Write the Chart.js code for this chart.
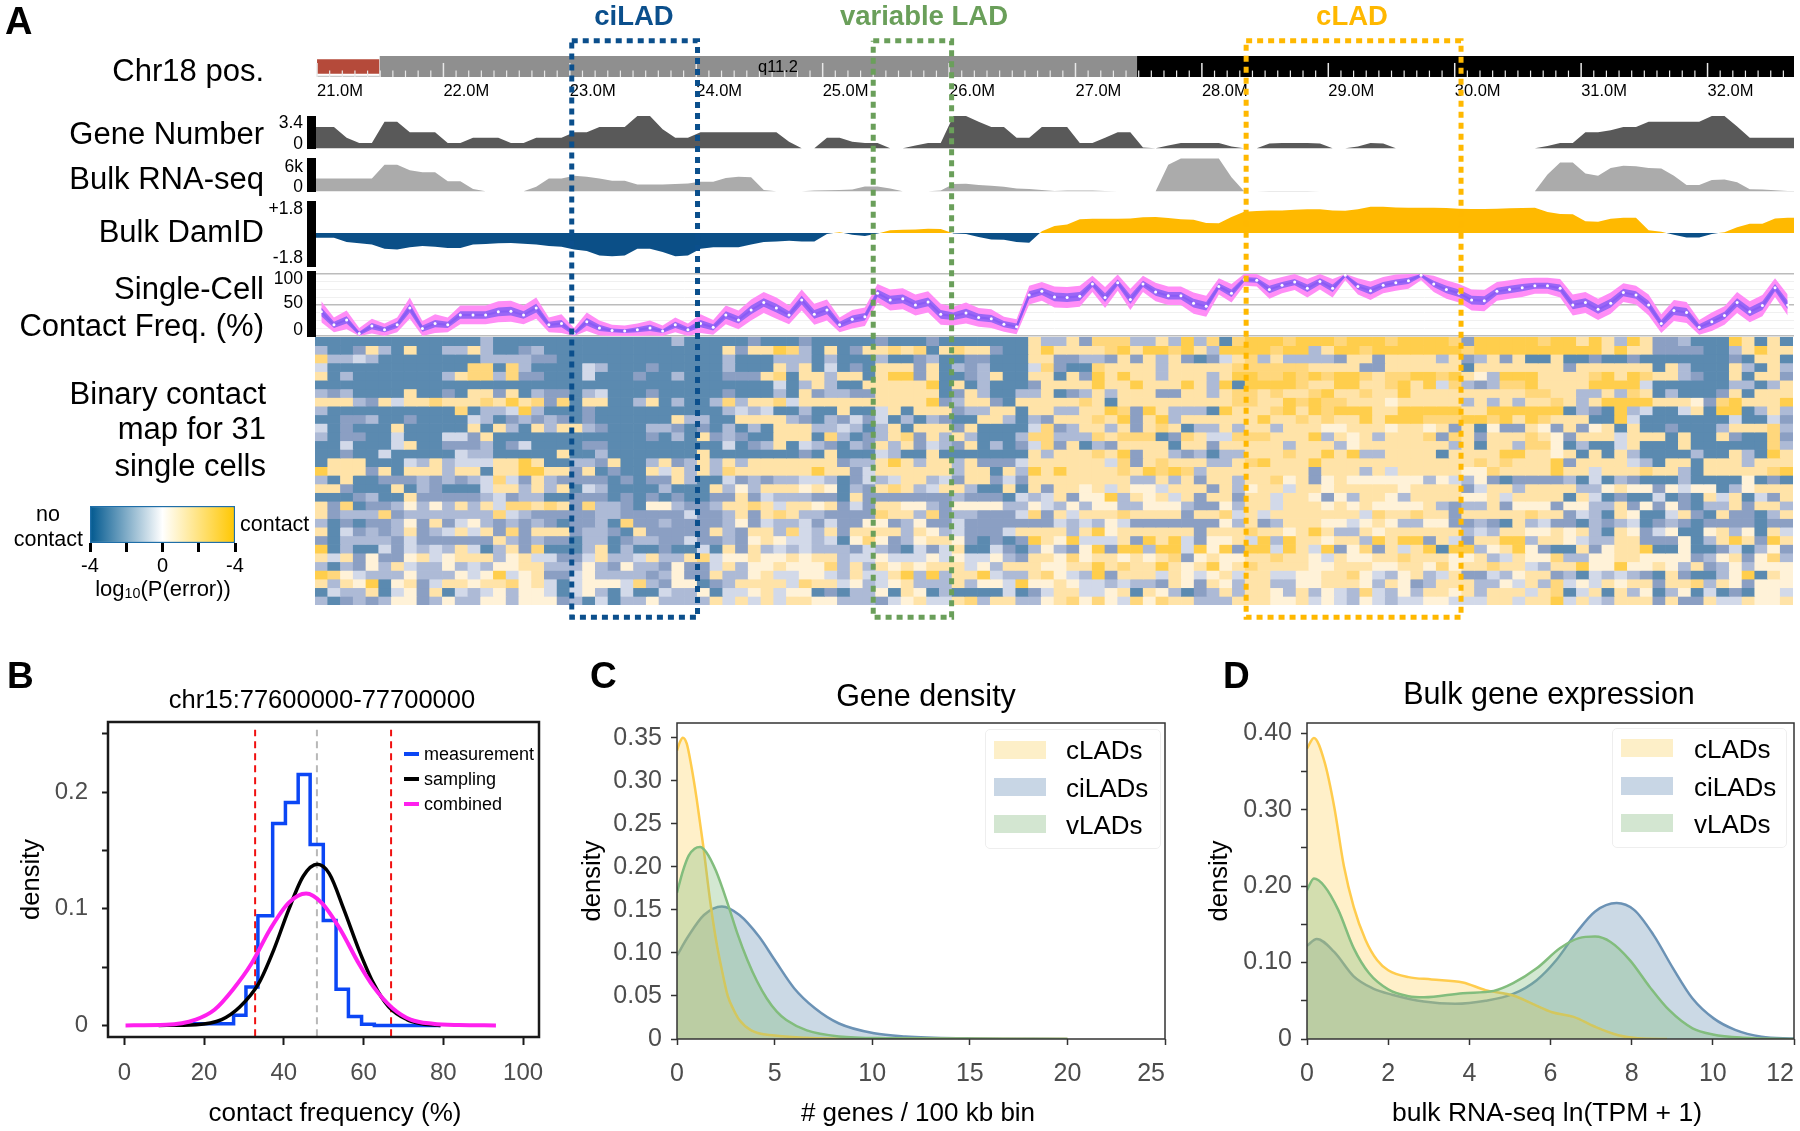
<!DOCTYPE html>
<html>
<head>
<meta charset="utf-8">
<title>LAD single-cell contact figure</title>
<script src="https://cdn.jsdelivr.net/npm/chart.js@4"></script>
<style>
    html, body { margin: 0; padding: 0; background: #fff; }
    #page { position: relative; width: 1800px; height: 1131px; overflow: hidden; font-family: "Liberation Sans", Arial, sans-serif; color: #000; filter: blur(0.4px); }
    #page canvas { position: absolute; }
    .txt { position: absolute; white-space: nowrap; line-height: 1; }
    .box { position: absolute; }
    sub { font-size: 0.65em; vertical-align: -0.15em; line-height: 0; }
</style>
</head>
<body>
<div id="page"></div>
<script>
// ---------- Panel A data: one value per 100 kb bin ----------
const chrTickLabels = ["21.0M", "22.0M", "23.0M", "24.0M", "25.0M", "26.0M", "27.0M", "28.0M", "29.0M", "30.0M", "31.0M", "32.0M"];
const chrTickValues = [21, 22, 23, 24, 25, 26, 27, 28, 29, 30, 31, 32];

const geneNumber = [2.25, 2.25, 1.1, .55, .55, 2.8, 2.8, 1.7, 1.7, 1.7, .55, .55, 1.1, 1.1, 1.1, .55, .55, 1.1, 1.1, 1.1,
    1.7, 1.7, 2.25, 2.25, 2.25, 3.4, 3.4, 2, 1.1, 1.1, 1.7, 1.7, 1.7, 1.7, 1.7, 1.7, 1.7, .7, 0, 0,
    1.1, 1.1, .7, .55, .55, 0, 0, .3, .55, .55, 3.4, 3.4, 2.8, 2.25, 2.25, 1.1, 1.1, 2.25, 2.25, 2.25,
    .55, .55, 1.1, 1.7, 1.7, .1, 0, .3, .55, .55, .55, .55, .2, 0, 0, .5, .55, .55, .55, .5,
    0, 0, .2, .55, .5, 0, 0, 0, 0, 0, 0, 0, 0, 0, 0, 0, 0, .25, .55, .55,
    1.7, 1.7, 1.9, 2.25, 2.25, 2.8, 2.8, 2.8, 2.8, 2.8, 3.4, 3.4, 2.3, 1.1, 1.1, 1.1, 1.1];

const bulkRna = [2.3, 2.3, 2.3, 2.3, 2.3, 4.8, 4.8, 3.8, 3.4, 3.4, 1.8, 1.8, .4, 0, 0, 0, 0, .8, 2.3, 2.3,
    2.8, 2.6, 2.3, 1.9, 1.9, 1.2, 1.2, 1.2, 1.3, 1.4, 1.7, 1.7, 2.4, 2.6, 2.5, .2, 0, 0, 0, .1,
    .15, .2, .3, .85, .85, .5, 0, 0, 0, .1, 1.3, 1.35, 1.1, 1, .8, .5, .4, .2, .05, .1,
    .1, .1, .05, 0, 0, 0, 0, 4.8, 5.9, 5.9, 5.9, 5.9, 2.5, 0, 0, .05, .05, .05, .05, 0,
    0, 0, 0, 0, 0, 0, 0, 0, 0, 0, 0, 0, 0, 0, 0, 0, 0, 3, 5.2, 5.2,
    3.2, 2.8, 4.2, 4.6, 4.5, 4.2, 4.1, 2.8, 1.1, 1.1, 2, 2.1, 1.6, .35, .3, .15, .05];

const bulkDamId = [-.26, -.26, -.5, -.58, -.65, -.88, -.92, -.8, -.73, -.77, -.84, -.84, -.65, -.62, -.58, -.56, -.6, -.65, -.73, -.77,
    -.92, -1.01, -1.26, -1.3, -1.26, -.88, -.88, -1.07, -1.3, -1.26, -.88, -.8, -.8, -.8, -.65, -.5, -.47, -.43, -.47, -.47,
    -.05, .05, -.1, -.17, -.03, .15, .18, .2, .24, .22, -.02, -.05, -.22, -.36, -.38, -.5, -.54, .1, .4, .48,
    .78, .8, .8, .8, .82, .88, .9, .85, .77, .75, .56, .55, .9, 1.2, 1.24, 1.27, 1.27, 1.31, 1.33, 1.33,
    1.27, 1.25, 1.33, 1.48, 1.48, 1.44, 1.42, 1.42, 1.42, 1.4, 1.37, 1.35, 1.35, 1.37, 1.39, 1.4, 1.42, 1.18, 1.07, 1.05,
    .66, .64, .8, .86, .86, .15, .07, -.1, -.25, -.25, -.05, .05, .33, .52, .52, .82, .86];

const contactFreq = [39, 18, 26, 4, 16, 10, 18, 45, 12, 20, 18, 34, 34, 34, 39, 40, 34, 45, 18, 20,
    4, 23, 13, 9, 8, 10, 13, 8, 18, 10, 20, 14, 34, 26, 42, 54, 45, 34, 58, 35,
    42, 18, 27, 31, 69, 58, 60, 50, 55, 35, 32, 37, 30, 28, 19, 15, 66, 72, 63, 62,
    64, 84, 62, 86, 59, 84, 71, 65, 65, 53, 48, 80, 69, 91, 90, 75, 82, 87, 77, 88,
    77, 98, 80, 73, 82, 86, 89, 98, 84, 75, 69, 58, 57, 72, 75, 78, 81, 81, 77, 50,
    54, 43, 53, 70, 66, 50, 20, 41, 38, 14, 23, 33, 54, 39, 49, 78, 50];

// half widths of the pink and the purple band round contactFreq
const contactOuter = [17, 12, 15, 9, 12, 10, 12, 17, 12, 15, 12, 15, 15, 15, 17, 17, 15, 17, 12, 15,
    9, 15, 12, 9, 9, 10, 12, 9, 12, 10, 15, 12, 15, 15, 17, 17, 17, 15, 17, 17,
    17, 12, 15, 15, 15, 17, 17, 17, 17, 17, 15, 17, 15, 15, 12, 12, 15, 15, 17, 17,
    17, 13, 17, 13, 17, 13, 15, 15, 15, 17, 17, 13, 15, 10, 10, 15, 13, 13, 15, 13,
    15, 8, 13, 15, 13, 13, 13, 8, 13, 15, 15, 17, 17, 15, 15, 15, 13, 13, 15, 17,
    17, 17, 17, 15, 15, 17, 15, 17, 17, 12, 15, 15, 17, 17, 17, 15, 17];
const contactInner = [7, 5, 6, 3, 5, 4, 5, 7, 5, 6, 5, 6, 6, 6, 7, 7, 6, 7, 5, 6,
    3, 6, 5, 3, 3, 4, 5, 3, 5, 4, 6, 5, 6, 6, 7, 7, 7, 6, 7, 7,
    7, 5, 6, 6, 6, 7, 7, 7, 7, 7, 6, 7, 6, 6, 5, 5, 6, 6, 7, 7,
    7, 5, 7, 5, 7, 5, 6, 6, 6, 7, 7, 5, 6, 4, 4, 6, 5, 5, 6, 5,
    6, 3, 5, 6, 5, 5, 5, 3, 5, 6, 6, 7, 7, 6, 6, 6, 5, 5, 6, 7,
    7, 7, 7, 6, 6, 7, 6, 7, 7, 5, 6, 6, 7, 7, 7, 6, 7];

// 31 cells x 116 bins, 0 = surest no contact ... 7 = surest contact
const contactRows = [
    "00000000000002000000000000002000001000 1 00000 1 000 1 0000000 5225 1 666 22 5 2 7 2 6 0 6 777 67 776777 6 7777 61 77777 6 77 57527 5112 000 75050",
    "200152050022520012 00000000000000 515576 205015565605655100 5755556757767527777677 257767 777777 6 777777 7777 57 55 1111 00 25755",
    "62232 00000000 222211 0000000000000 2 000 22 202000200120011000 5511221515251013562522 2215515 555 25 12515 00500 1001 0000000 10550",
    "3 00000000000 66062 0000 32 000 1 00000 2 000 52 503010555150212000 3610065555255555666666 5555 11 555555 0 5555555 1 555555 0 52 000 52052",
    "502 0000000 25662611 000 3 000 1 00 2 000 111560 552550577150012500 5505175755255525776676 76776 56677 67542 77755 55675 76552 10050 551",
    "000000000000000000000000000000000000 30 252005555570502000 1555575575557527077776 55775 56757 36212 66755 55777 73000 00022 025",
    "212 0000 5 00 10 5515 0 211 0 23 000 1 00000 1 000 20 512211555550152002 2501252555115525665655 67556 55755 55555 55665 52252 65020 00150 555",
    "555215355655565 75616055 002502002 625563 555555555571255105 5555650555555555665576 76655 54555 55252 52556 52577 77555 41675 557",
    "2 0000000000 6022372 000 1 0000000000 232300 200500350555122550 5522557617522207555675 76777 55777 77557 77777 02107 23003 50770 252",
    "00112 00 1 0000 32 0 12121 0 1 000000 522 00 55552 102131302021005520 2155565715725555557556 56557 57776 66776 75765 55007 30000 00030 031",
    "301 000 5 00000 505205 25521 000 221010 202055 522320250555150000 3612552515650225255255 54455 54554 51504 11541 51450 50010 00255 562",
    "2011 00 3 000 3315 000000000000 1020 51 21 00 55 506201256152520002 6622265666016533666555 72545 25556 16515 55654 15553 55505 00510 061",
    "003 000 35 00 1112 013 0000 11 000000000 301250 321021525132150201 3615021555505515555525 55245 55555 52505 52664 02003 50005 00000 062",
    "001 00 3 00000 322 00000 5 00 2 0000000 5 0000000 105000320050000000 5255565715521202255565 57572 25555 05555 77554 50505 20000 20052 075",
    "0555 000 3252 333 5575 00 221 5 00 2512 5252 5555 555122575255251113 5555553615655522567555 75555 55555 55565 65557 15555 32055 05552 555",
    "7555 150 555 255 055 77 55 150 100 5352 52 655555 575513555555255052 7575555657676255555555 15552 53555 55446 55557 55355 56552 05555 567",
    "20500 11121212 363 1521111 01011 5200 312122 332013235523155131 5555555522525155255645 14544 44442 43241 01111 20302 10002 00004 010",
    "551 000 5021 000 3552525 032 0000 2 000 5 242555 454021565235520050 5155453544355515245535 54555 55455 55135 52555 52245 44143 44024 555",
    "000 12 00 5 11111 2 3122 00 111 01010 100 1151322 211051111111211103 2351447254535155155355 41425 54255 55445 35555 05301 00301 05350 315",
    "5160112424252536 6565162210 442112556535 545131554421444422 4324244224442114255355 54545 44445 21225 14441 44225 14141 02251 552",
    "5122261222222263 2111112211 111311251565 221111655261221113 6153555655551556353555 55553 65565 51555 55655 13205 40035 10511 025",
    "2010112415134212 1210112061 121111241322 313114412411311111 1132324311111114251255 54434 54224 41121 05231 10212 30121 01111 011",
    "5031212512353516 1555122105 111115215526 325155552542311135 5552574555555155565545 75225 45555 55232 55445 45205 41340 04524 053",
    "1022221311111152 1211022012 211311214543 323046412455410101 7547333517573144537275 54552 75771 53155 77255 43225 51114 02575 175",
    "7020031323253025 1600025020 010030515232 322213210313500310 2421471772773747177375 37146 15357 07724 57410 05145 57004 00130 241",
    "5351411453455524 5331135223 522563445445 455233433343433421 5546455454561454455655 43544 55655 54452 35446 22445 54444 12451 462",
    "2021425322423244 5522242142 214113524454 446252545455534255 5445575655754574565555 44555 44554 64556 55325 57447 44542 51242 444",
    "7643222422243473 4511342222 124115224533 443253357272557322 5643271555354345355334 45564 32452 35113 24551 20323 21051 00247 054",
    "5254704513554556 4530344436 214401255553 655342345222524437 4454332322154154255224 45554 25412 55522 43526 34354 55155 62541 444",
    "0322503415032342 4430342030 032240334534 401022405402000030 1355334505420125255425 24326 32425 54525 55356 03505 24024 03010 443",
    "2012124412422442 4441203022 422225353535 544222134533562552 2456464364655222555445 34324 32334 43335 53557 35325 55151 15335 445"
];
const heatColors = ["#5b8ab0", "#8b9fc3", "#adbad6", "#d2d9e9", "#fff2d8", "#ffe3a8", "#ffd77c", "#ffce4c"];

// dotted regions on the track, in Mb
const ladNames = ["ciLAD", "variable LAD", "cLAD"];
const ladStart = [23.015, 25.40, 28.35];
const ladEnd = [24.01, 26.02, 30.05];
const ladColors = ["#0b4f8c", "#6a9f5a", "#ffb800"];

// ---------- Panel B ----------
const measureEdges = [17.5, 27.4, 30.5, 33.5, 37.2, 40.4, 43.6, 46.6, 49.9, 53.1, 56.2, 59.5, 62.7, 66, 79.3];
const measureValues = [0, .0014, .0086, .033, .094, .173, .191, .215, .155, .09, .031, .0077, .001, 0, 0];
const samplingX = [8.6, 18, 24.4, 29, 33.7, 37.5, 41.2, 44.9, 48.4, 51.4, 55.1, 58.8, 62.5, 66.3, 70.9, 74.6, 79.3];
const samplingY = [0, .0006, .005, .016, .036, .065, .099, .128, .138, .13, .099, .065, .036, .016, .005, .0014, 0];
const combinedX = [.3, 10.5, 17.9, 22.6, 27.2, 31.9, 36.5, 41.2, 45.6, 49.5, 54.2, 58.8, 62.5, 67.2, 71.8, 77.4, 83.9, 93.2];
const combinedY = [0, .0005, .005, .0134, .0306, .053, .082, .105, .113, .105, .082, .053, .033, .015, .005, .0014, .0003, 0];
const boundLow = 32.8, boundHigh = 66.9, boundMid = 48.3;
const bTicksX = [0, 20, 40, 60, 80, 100];
const bTicksY = [0, .05, .1, .15, .2, .25];
const bLabelsY = ["0", "", "0.1", "", "0.2", ""];
const bLegend = ["measurement", "sampling", "combined"];

// ---------- Panel C ----------
const cClX = [0, .15, .3, .5, .75, 1, 1.34, 1.7, 2, 2.3, 2.6, 2.9, 3.2, 3.8, 5, 6.6, 9, 20];
const cClY = [.335, .345, .35, .343, .315, .28, .225, .16, .115, .08, .05, .034, .022, .01, .004, .0015, .0003, 0];
const cCiX = [0, .57, 1.38, 2.3, 3.2, 4.2, 5, 6, 7.05, 8.3, 10.1, 11.7, 14.8, 20];
const cCiY = [.097, .119, .144, .154, .144, .119, .092, .059, .036, .018, .0066, .003, .0008, 0];
const cVX = [0, .3, .6, .9, 1.18, 1.5, 2, 2.6, 3.1, 3.6, 4.1, 4.6, 5.1, 5.6, 6.65, 8.3, 10.7, 20];
const cVY = [.17, .195, .213, .221, .223, .217, .195, .157, .122, .092, .067, .047, .032, .022, .01, .003, .001, 0];
const cTicksX = [0, 5, 10, 15, 20, 25];
const cTicksY = [0, .05, .1, .15, .2, .25, .3, .35];
const cLabelsY = ["0", "0.05", "0.10", "0.15", "0.20", "0.25", "0.30", "0.35"];

// ---------- Panel D ----------
const dClX = [0, .17, .43, .67, .91, 1.15, 1.44, 1.73, 2, 2.5, 3.07, 3.84, 4.4, 5.08, 5.56, 6.04, 6.57, 7.1, 7.67, 8.15, 8.87];
const dClY = [.38, .394, .363, .304, .226, .173, .13, .103, .09, .081, .078, .074, .064, .057, .046, .035, .029, .016, .005, .001, 0];
const dCiX = [0, .24, .67, 1.15, 1.63, 2.1, 2.88, 3.65, 4.4, 5.08, 5.66, 6.14, 6.62, 7.1, 7.63, 8.06, 8.54, 9.02, 9.5, 10.02, 10.55, 11.2, 12];
const dCiY = [.122, .131, .114, .082, .066, .058, .049, .046, .05, .059, .077, .103, .138, .167, .178, .169, .136, .0925, .053, .027, .012, .003, .0005];
const dVX = [0, .17, .43, .77, 1.15, 1.53, 2, 2.5, 2.88, 3.84, 4.6, 5.08, 5.66, 6.24, 6.7, 7.1, 7.48, 7.96, 8.44, 8.92, 9.5, 10, 10.74, 12];
const dVY = [.195, .21, .2, .169, .119, .086, .065, .056, .0545, .06, .063, .073, .0925, .119, .132, .134, .127, .103, .0685, .038, .014, .006, .0017, 0];
const dTicksX = [0, 2, 4, 6, 8, 10, 12];
const dTicksY = [0, .05, .1, .15, .2, .25, .3, .35, .4];
const dLabelsY = ["0", "", "0.10", "", "0.20", "", "0.30", "", "0.40"];

const ladLegend = ["cLADs", "ciLADs", "vLADs"];
const ladSwatches = ["#fdefc8", "#c8d6e5", "#d3e6d1"];

// ---------- helpers ----------
const page = document.getElementById("page");
Chart.defaults.font.family = '"Liberation Sans", Arial, sans-serif';
Chart.defaults.animation = false;
Chart.defaults.responsive = false;
Chart.defaults.plugins.legend.display = false;
Chart.defaults.plugins.tooltip.enabled = false;

function addCanvas(x, y, w, h, z) {
    let c = document.createElement("canvas");
    c.width = w;
    c.height = h;
    c.style.left = x + "px";
    c.style.top = y + "px";
    c.style.width = w + "px";
    c.style.height = h + "px";
    if (z) c.style.zIndex = z;
    page.appendChild(c);
    return c;
}

// text is placed by its anchor: "l", "c" or "r", and by its vertical middle
function addText(text, x, y, size, anchor, extra) {
    let d = document.createElement("div");
    d.className = "txt";
    d.innerHTML = text;
    d.style.left = x + "px";
    d.style.top = y + "px";
    d.style.fontSize = size + "px";
    let tx = anchor === "r" ? "-100%" : anchor === "c" ? "-50%" : "0";
    d.style.transform = "translate(" + tx + ",-50%)";
    Object.assign(d.style, extra || {});
    page.appendChild(d);
    return d;
}

function addBox(x, y, w, h, style) {
    let d = document.createElement("div");
    d.className = "box";
    d.style.left = x + "px";
    d.style.top = y + "px";
    d.style.width = w + "px";
    d.style.height = h + "px";
    Object.assign(d.style, style);
    page.appendChild(d);
    return d;
}

const zip = (xs, ys) => xs.map((x, i) => ({ x: x, y: ys[i] }));

// bins run from -0.5 to 116.5, so hold the first and last value out to the edges
function binPoints(values) {
    let pts = values.map((y, x) => ({ x: x, y: y }));
    return [{ x: -0.5, y: values[0] }, ...pts, { x: 116.5, y: values[values.length - 1] }];
}

// scales ask the layout for room for their outer labels, which would move the plot area
function noScalePadding(s) {
    s.paddingLeft = s.paddingRight = s.paddingTop = s.paddingBottom = 0;
}

const framePlugin = {
    id: "frame",
    afterDraw(chart, args, opts) {
        let a = chart.chartArea;
        chart.ctx.save();
        chart.ctx.strokeStyle = opts.color;
        chart.ctx.lineWidth = opts.width;
        chart.ctx.strokeRect(a.left, a.top, a.right - a.left, a.bottom - a.top);
        chart.ctx.restore();
    }
};

// ---------- Panel A tracks ----------
function trackChart(y, h, yMin, yMax, datasets, yExtra) {
    let canvas = addCanvas(315, y, 1479, h);
    return new Chart(canvas, {
        type: "line",
        data: { datasets: datasets },
        options: {
            layout: { padding: 0, autoPadding: false },
            elements: { point: { radius: 0 }, line: { borderWidth: 0, tension: 0 } },
            scales: {
                x: { type: "linear", min: -0.5, max: 116.5, display: false },
                y: Object.assign({ min: yMin, max: yMax, display: false }, yExtra || {})
            }
        }
    });
}

// ideogram with its ticks and Mb labels
const mbMin = 20.984, mbMax = 32.684;
let minorTicks = [], majorTicks = [];
for (let i = 210; i <= 326; i++) {
    if (i % 10 === 0) majorTicks.push({ x: i / 10, y: 0.335 });
    else minorTicks.push({ x: i / 10, y: 0.153 });
}
new Chart(addCanvas(315, 56, 1479, 48), {
    type: "scatter",
    data: {
        datasets: [
            { data: majorTicks, pointStyle: "line", pointRotation: 90, pointRadius: 7, pointBorderColor: "#e8e8e8", pointBorderWidth: 1.5 },
            { data: minorTicks, pointStyle: "line", pointRotation: 90, pointRadius: 3.2, pointBorderColor: "#e8e8e8", pointBorderWidth: 1.2 },
            { data: [{ x: 21, y: .02 }, { x: 21.5, y: .02 }], showLine: true, pointRadius: 0, borderColor: "#c8c8c8", borderWidth: 1.5 },
            { data: [{ x: 21, y: .85 }, { x: 21.494, y: .85 }], showLine: true, pointRadius: 0, borderWidth: 0, fill: { value: .16 }, backgroundColor: "#b54a3a" },
            { data: [{ x: 21.494, y: 1 }, { x: 27.487, y: 1 }], showLine: true, pointRadius: 0, borderWidth: 0, fill: { value: 0 }, backgroundColor: "#8f8f8f" },
            { data: [{ x: 27.487, y: 1 }, { x: mbMax, y: 1 }], showLine: true, pointRadius: 0, borderWidth: 0, fill: { value: 0 }, backgroundColor: "#000" }
        ]
    },
    options: {
        layout: { padding: 0, autoPadding: false },
        scales: {
            x: {
                type: "linear", min: mbMin, max: mbMax, position: "bottom",
                afterBuildTicks(a) { a.ticks = chrTickValues.map(v => ({ value: v })); },
                afterFit(s) { s.height = 27; noScalePadding(s); },
                ticks: { autoSkip: false, maxRotation: 0, align: "start", padding: -3, color: "#000", font: { size: 16.5 }, callback: (v, i) => chrTickLabels[i] },
                grid: { display: false },
                border: { display: false }
            },
            y: { min: 0, max: 1, display: false }
        }
    }
});
addText("q11.2", 778, 66, 16.5, "c");

trackChart(116, 33, -0.07, 3.4, [{ data: binPoints(geneNumber), fill: "origin", backgroundColor: "#595959" }]);
trackChart(158, 34, -0.15, 6, [{ data: binPoints(bulkRna), fill: "origin", backgroundColor: "#ababab" }]);
trackChart(201, 66, -1.91, 1.8, [{
    data: binPoints(bulkDamId),
    fill: { target: { value: 0 }, above: "#ffb900", below: "#0b4f87" }
}]);

let outerHigh = contactFreq.map((v, i) => Math.min(100, v + contactOuter[i]));
let outerLow = contactFreq.map((v, i) => Math.max(0, v - contactOuter[i]));
let innerHigh = contactFreq.map((v, i) => Math.min(100, v + contactInner[i]));
let innerLow = contactFreq.map((v, i) => Math.max(0, v - contactInner[i]));
trackChart(272, 65, -1.6, 103.2, [
    {
        data: contactFreq.map((y, x) => ({ x: x, y: y })), borderColor: "#8a5cf5", borderWidth: 2,
        pointRadius: 1.5, pointBackgroundColor: "#fff", pointBorderWidth: 0
    },
    { data: innerHigh.map((y, x) => ({ x: x, y: y })), fill: "+1", backgroundColor: "#9a66f6" },
    { data: innerLow.map((y, x) => ({ x: x, y: y })) },
    { data: outerHigh.map((y, x) => ({ x: x, y: y })), fill: "+1", backgroundColor: "#ff8df6" },
    { data: outerLow.map((y, x) => ({ x: x, y: y })) }
], {
    display: true,
    afterBuildTicks(a) { a.ticks = [0, 12.5, 25, 37.5, 50, 62.5, 75, 87.5, 100].map(v => ({ value: v })); },
    afterFit(s) { s.width = 0; noScalePadding(s); },
    ticks: { display: false },
    border: { display: false },
    grid: {
        drawTicks: false,
        color: c => (c.tick.value % 50 === 0 ? "#bcbcbc" : "#f0f0f0"),
        lineWidth: c => (c.tick.value % 50 === 0 ? 1.5 : 1)
    }
});

// ---------- binary contact heatmap: stacked unit bars, one dataset per cell ----------
let heatDigits = contactRows.map(r => r.replace(/\s/g, "").split("").map(Number));
let heatBins = heatDigits[0].map((d, i) => i);
new Chart(addCanvas(315, 337, 1478, 268), {
    type: "bar",
    data: {
        labels: heatBins,
        datasets: heatDigits.map(row => ({
            data: row.map(() => 1),
            backgroundColor: row.map(d => heatColors[d]),
            barPercentage: 1,
            categoryPercentage: 1,
            borderWidth: 0
        }))
    },
    options: {
        layout: { padding: 0, autoPadding: false },
        scales: {
            x: { stacked: true, display: false },
            y: { stacked: true, display: false, min: 0, max: heatDigits.length, reverse: true }
        }
    }
});

// ---------- dotted LAD boxes over the whole of panel A ----------
new Chart(addCanvas(315, 36, 1479, 586, 5), {
    type: "scatter",
    data: {
        datasets: ladNames.map((name, i) => ({
            label: name,
            data: [
                { x: ladStart[i], y: .992 }, { x: ladEnd[i], y: .992 },
                { x: ladEnd[i], y: .008 }, { x: ladStart[i], y: .008 }, { x: ladStart[i], y: .992 }
            ],
            showLine: true,
            pointRadius: 0,
            borderColor: ladColors[i],
            borderWidth: 5,
            borderDash: [6, 5],
            tension: 0
        }))
    },
    options: {
        layout: { padding: 0, autoPadding: false },
        scales: {
            x: { type: "linear", min: mbMin, max: mbMax, display: false },
            y: { min: 0, max: 1, display: false }
        }
    }
});

addText("ciLAD", 634, 16, 27.5, "c", { fontWeight: "bold", color: ladColors[0] });
addText("variable LAD", 924, 16, 27.5, "c", { fontWeight: "bold", color: ladColors[1] });
addText("cLAD", 1352, 16, 27.5, "c", { fontWeight: "bold", color: ladColors[2] });

// track names and their small scale labels
addText("Chr18 pos.", 264, 70, 31, "r");
addText("Gene Number", 264, 133, 31, "r");
addText("Bulk RNA-seq", 264, 178, 31, "r");
addText("Bulk DamID", 264, 231, 31, "r");
addText("Single-Cell", 264, 288, 31, "r");
addText("Contact Freq. (%)", 264, 325, 31, "r");
addText("Binary contact", 266, 393, 31, "r");
addText("map for 31", 266, 428, 31, "r");
addText("single cells", 266, 465, 31, "r");

[["3.4", 123], ["0", 144], ["6k", 167], ["0", 187], ["+1.8", 209], ["-1.8", 258], ["100", 279], ["50", 303], ["0", 330]].forEach(t => {
    addText(t[0], 303, t[1], 17.5, "r");
});
[[116, 33], [158, 34], [201, 66], [271, 66]].forEach(b => addBox(307, b[0], 9, b[1], { background: "#000" }));

// colour bar
new Chart(addCanvas(78, 500, 170, 80), {
    type: "bar",
    data: {
        labels: [""],
        datasets: [{
            data: [[-4, 4]],
            barPercentage: 1,
            categoryPercentage: 1,
            borderColor: "#1f6ea8",
            borderWidth: 1.5,
            borderSkipped: false,
            backgroundColor(c) {
                let a = c.chart.chartArea;
                if (!a) return "#fff";
                let g = c.chart.ctx.createLinearGradient(a.left, 0, a.right, 0);
                g.addColorStop(0, "#00588f");
                g.addColorStop(.5, "#ffffff");
                g.addColorStop(1, "#ffc700");
                return g;
            }
        }]
    },
    options: {
        indexAxis: "y",
        layout: { padding: { left: 12, right: 13, top: 6 }, autoPadding: false },
        scales: {
            x: {
                type: "linear", min: -4, max: 4,
                afterBuildTicks(a) { a.ticks = [-4, -2, 0, 2, 4].map(v => ({ value: v })); },
                afterFit(s) { s.height = 37; noScalePadding(s); },
                ticks: { autoSkip: false, maxRotation: 0, padding: 2, color: "#000", font: { size: 20 }, callback: v => (v === 0 ? "0" : Math.abs(v) === 4 ? "-4" : "") },
                grid: { drawOnChartArea: false, color: "#000", tickLength: 9, tickWidth: 3 },
                border: { display: false }
            },
            y: { display: false }
        }
    }
});
addText("no", 48, 515, 21.5, "c");
addText("contact", 83, 540, 21.5, "r");
addText("contact", 240, 525, 21.5, "l");
addText("log<sub>10</sub>(P(error))", 163, 589, 22, "c");

// ---------- Panels B, C, D share one axes setup with a fixed plot area ----------
function plotChart(p) {
    let padL = p.area.x - p.x, padT = p.area.y - p.y;
    let canvas = addCanvas(p.x, p.y, p.w, p.h);
    let padR = p.x + p.w - (p.area.x + p.area.w);
    let padB = p.y + p.h - (p.area.y + p.area.h);
    return new Chart(canvas, {
        type: "line",
        data: { datasets: p.datasets },
        plugins: [framePlugin],
        options: {
            layout: { padding: { top: padT, right: padR }, autoPadding: false },
            elements: { point: { radius: 0 } },
            plugins: { frame: { color: p.frameColor, width: p.frameWidth } },
            scales: {
                x: {
                    type: "linear", min: p.xMin, max: p.xMax,
                    afterBuildTicks(a) { a.ticks = p.xTicks.map(v => ({ value: v })); },
                    afterFit(s) { s.height = padB; noScalePadding(s); },
                    // the last label of C and D sits inside the frame, so it is written apart
                    ticks: { autoSkip: false, maxRotation: 0, padding: p.xPad, color: "#4d4d4d", font: { size: p.tickSize }, callback: v => (v === p.lastLabelApart ? "" : String(v)) },
                    grid: { drawOnChartArea: false, color: p.frameColor, tickLength: p.tickLenX, tickWidth: p.tickWidth },
                    border: { display: false }
                },
                y: {
                    min: p.yMin, max: p.yMax,
                    afterBuildTicks(a) { a.ticks = p.yTicks.map(v => ({ value: v })); },
                    afterFit(s) { s.width = padL; noScalePadding(s); },
                    ticks: { autoSkip: false, padding: p.yPad, color: "#4d4d4d", font: { size: p.tickSize }, callback: (v, i) => p.yLabels[i] },
                    grid: { drawOnChartArea: false, color: p.frameColor, tickLength: 6, tickWidth: p.tickWidth },
                    border: { display: false },
                    title: { display: true, text: "density", color: "#000", font: { size: 25.5 }, padding: { top: p.yTitleOffset, bottom: 0 } }
                }
            }
        }
    });
}

function curve(points, line, fillColor, width) {
    return { data: points, borderColor: line, borderWidth: width, backgroundColor: fillColor, fill: "origin", cubicInterpolationMode: "monotone" };
}
function plainCurve(points, color, width) {
    return { data: points, borderColor: color, borderWidth: width, fill: false, cubicInterpolationMode: "monotone" };
}
function markerLine(x, color) {
    return { data: [{ x: x, y: -.0094 }, { x: x, y: .2534 }], borderColor: color, borderWidth: 2, borderDash: [7, 5], fill: false };
}

// B
plotChart({
    x: 10, y: 712, w: 545, h: 419,
    area: { x: 108, y: 722, w: 431, h: 315 },
    xMin: -4.1, xMax: 104, yMin: -.00994, yMax: .26,
    xTicks: bTicksX, yTicks: bTicksY, yLabels: bLabelsY,
    tickSize: 24, tickLenX: 8, tickWidth: 2, xPad: 14, yPad: 14,
    frameColor: "#1a1a1a", frameWidth: 2.5,
    yTitleOffset: 7,
    datasets: [
        plainCurve(zip(combinedX, combinedY), "#ff20ee", 4),
        plainCurve(zip(samplingX, samplingY), "#000", 3.5),
        { data: zip(measureEdges, measureValues), borderColor: "#0b46f5", borderWidth: 3.5, stepped: "after", fill: false },
        markerLine(boundLow, "#f01010"),
        markerLine(boundHigh, "#f01010"),
        markerLine(boundMid, "#b8b8b8")
    ]
});
addText("chr15:77600000-77700000", 322, 700, 25.5, "c");
addText("contact frequency (%)", 335, 1112, 26, "c");
addText("B", 7, 675, 37, "l", { fontWeight: "bold" });
bLegend.forEach((name, i) => {
    let y = [754, 779, 804][i];
    addBox(404, y - 2, 15, 4, { background: ["#0b46f5", "#000", "#ff20ee"][i] });
    addText(name, 424, y, 18, "l");
});

// C
plotChart({
    x: 578, y: 712, w: 612, h: 419,
    area: { x: 677, y: 723, w: 488, h: 316 },
    xMin: 0, xMax: 25, yMin: 0, yMax: .367,
    xTicks: cTicksX, yTicks: cTicksY, yLabels: cLabelsY, lastLabelApart: 25,
    tickSize: 25, tickLenX: 6, tickWidth: 1.5, xPad: 14, yPad: 9,
    frameColor: "#333", frameWidth: 1.5,
    yTitleOffset: 0,
    datasets: [
        curve(zip(cVX, cVY), "#82bd7d", "rgba(130,189,125,.35)", 2.5),
        curve(zip(cClX, cClY), "#ffcc4d", "rgba(255,204,77,.3)", 2.5),
        curve(zip(cCiX, cCiY), "#6b92b5", "rgba(107,146,181,.35)", 2.5)
    ]
});
addText("25", 1165, 1072, 25, "r", { color: "#4d4d4d" });
addText("Gene density", 926, 695, 30.5, "c");
addText("# genes / 100 kb bin", 918, 1112, 26, "c");
addText("C", 590, 675, 37, "l", { fontWeight: "bold" });

// D
plotChart({
    x: 1205, y: 712, w: 595, h: 419,
    area: { x: 1307, y: 723, w: 487, h: 316 },
    xMin: 0, xMax: 12, yMin: 0, yMax: .4136,
    xTicks: dTicksX, yTicks: dTicksY, yLabels: dLabelsY, lastLabelApart: 12,
    tickSize: 25, tickLenX: 6, tickWidth: 1.5, xPad: 14, yPad: 9,
    frameColor: "#333", frameWidth: 1.5,
    yTitleOffset: 0,
    datasets: [
        curve(zip(dVX, dVY), "#82bd7d", "rgba(130,189,125,.35)", 2.5),
        curve(zip(dClX, dClY), "#ffcc4d", "rgba(255,204,77,.3)", 2.5),
        curve(zip(dCiX, dCiY), "#6b92b5", "rgba(107,146,181,.35)", 2.5)
    ]
});
addText("12", 1794, 1072, 25, "r", { color: "#4d4d4d" });
addText("Bulk gene expression", 1549, 693, 30.5, "c");
addText("bulk RNA-seq ln(TPM + 1)", 1547, 1112, 26.5, "c");
addText("D", 1223, 675, 37, "l", { fontWeight: "bold" });

// legends for C and D
function ladLegendBox(x, y, w, h, swatchX, textX, swatchYs, textYs) {
    addBox(x, y, w, h, { border: "1px solid #eeeeee", borderRadius: "5px", background: "rgba(255,255,255,.85)", zIndex: 3, boxSizing: "border-box" });
    ladLegend.forEach((name, i) => {
        addBox(swatchX, swatchYs[i], 52, 18, { background: ladSwatches[i], zIndex: 4 });
        addText(name, textX, textYs[i], 26, "l", { zIndex: 4 });
    });
}
ladLegendBox(985, 729, 176, 120, 994, 1066, [741, 778, 815], [750, 788, 825]);
ladLegendBox(1612, 728, 175, 120, 1621, 1694, [739, 777, 814], [749, 787, 824]);

addText("A", 5, 21, 38, "l", { fontWeight: "bold" });
</script>
</body>
</html>
